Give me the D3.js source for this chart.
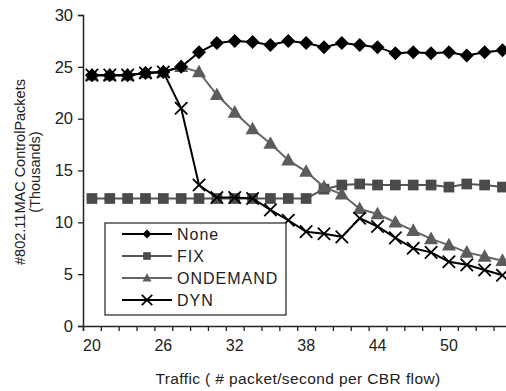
<!DOCTYPE html>
<html><head><meta charset="utf-8">
<script src="https://cdn.jsdelivr.net/npm/d3@7"></script>
<style>
html,body{margin:0;padding:0;background:#fff;}
svg{display:block;font-family:"Liberation Sans",Arial,sans-serif;}
</style></head>
<body><svg id="c" width="506" height="391"></svg>
<script>
const categories = [20,21.5,23,24.5,26,27.5,29,30.5,32,33.5,35,36.5,38,39.5,41,42.5,44,45.5,47,48.5,50,51.5,53,54.5];
const labelCats = [20,26,32,38,44,50];
const yTicks = [0,5,10,15,20,25,30];
const noneVals = [24.2,24.2,24.2,24.4,24.5,25.0,26.4,27.3,27.5,27.4,27.1,27.5,27.3,26.9,27.3,27.1,26.9,26.3,26.4,26.3,26.4,26.1,26.4,26.6];
const fixVals = [12.3,12.3,12.3,12.3,12.3,12.3,12.3,12.3,12.3,12.3,12.3,12.3,12.3,13.2,13.6,13.7,13.6,13.6,13.6,13.6,13.4,13.7,13.6,13.4];
const ondemandVals = [24.2,24.2,24.2,24.4,24.5,25.0,24.5,22.3,20.6,19.0,17.6,16.0,14.9,13.4,12.7,11.3,10.8,10.0,9.2,8.4,7.8,7.1,6.7,6.3];
const dynVals = [24.2,24.2,24.2,24.4,24.5,21.0,13.6,12.4,12.4,12.3,11.2,10.2,9.1,8.9,8.6,10.4,9.6,8.5,7.5,7.1,6.2,5.9,5.4,4.9];
const seriesNames = ["None","FIX","ONDEMAND","DYN"];

const svg = d3.select("#c");
const left = 83, step = 17.85;
const x = d3.scaleBand().domain(categories).range([left, left + step*categories.length]).padding(0);
const xEdge = d3.scaleLinear().domain([0, categories.length]).range([left, left + step*categories.length]);
const y = d3.scaleLinear().domain([0,30]).range([326,15]);

const series = [
  {name:seriesNames[0], vals:noneVals, line:"#000", fill:"#000", shape:"diamond"},
  {name:seriesNames[1], vals:fixVals, line:"#555", fill:"#4a4a4a", shape:"square"},
  {name:seriesNames[2], vals:ondemandVals, line:"#666", fill:"#5c5c5c", shape:"triangle"},
  {name:seriesNames[3], vals:dynVals, line:"#000", fill:"#000", shape:"x"}
];

// axes
const yAxis = d3.axisLeft(y).tickValues(yTicks).tickSize(5).tickPadding(5);
const gy = svg.append("g").attr("transform",`translate(${left},0)`).call(yAxis);
gy.selectAll("text").attr("font-size",16.5).attr("fill","#222").attr("font-family","Liberation Sans, Arial, sans-serif");
gy.select(".domain").attr("stroke","#222").attr("stroke-width",1.5);
gy.selectAll(".tick line").attr("stroke","#222").attr("stroke-width",1.3);

const gxT = svg.append("g").attr("transform","translate(0,326)")
  .call(d3.axisBottom(xEdge).tickValues(d3.range(0,categories.length+1)).tickSize(5).tickFormat(""));
gxT.select(".domain").attr("stroke","#222").attr("stroke-width",1.5);
gxT.selectAll(".tick line").attr("stroke","#222").attr("stroke-width",1.3);

const gxL = svg.append("g").attr("transform","translate(0,326)")
  .call(d3.axisBottom(x).tickValues(labelCats).tickSize(0).tickPadding(14).tickFormat(d=>d));
gxL.select(".domain").remove();
gxL.selectAll("text").attr("font-size",16).attr("fill","#222").attr("font-family","Liberation Sans, Arial, sans-serif");

// titles
svg.append("text").attr("x",298).attr("y",384).attr("text-anchor","middle")
  .attr("font-size",15.5).attr("letter-spacing",0.4).attr("fill","#222").text("Traffic ( # packet/second per CBR flow)");
svg.append("text").attr("transform","translate(25,172) rotate(-90)").attr("text-anchor","middle")
  .attr("font-size",14.5).attr("fill","#222").text("#802.11MAC ControlPackets");
svg.append("text").attr("transform","translate(40,172) rotate(-90)").attr("text-anchor","middle")
  .attr("font-size",14.5).attr("fill","#222").text("(Thousands)");

function drawMarker(g, shape, cx, cy, s, col){
  if(shape==="diamond"){
    g.append("path").attr("d",`M${cx},${cy-s}L${cx+s},${cy}L${cx},${cy+s}L${cx-s},${cy}Z`).attr("fill",col);
  } else if(shape==="square"){
    g.append("rect").attr("x",cx-s*0.85).attr("y",cy-s*0.85).attr("width",s*1.7).attr("height",s*1.7).attr("fill",col);
  } else if(shape==="triangle"){
    g.append("path").attr("d",`M${cx},${cy-s*1.05}L${cx+s},${cy+s*0.75}L${cx-s},${cy+s*0.75}Z`).attr("fill",col);
  } else {
    const k=s*0.95;
    g.append("path").attr("d",`M${cx-k},${cy-k}L${cx+k},${cy+k}M${cx-k},${cy+k}L${cx+k},${cy-k}`)
      .attr("stroke",col).attr("stroke-width",1.8).attr("fill","none");
  }
}

const cx = d => x(d) + x.bandwidth()/2;
const order = [1,2,0,3];
order.forEach(i=>{
  const s = series[i];
  const line = d3.line().x((v,j)=>cx(categories[j])).y(v=>y(v));
  const g = svg.append("g");
  g.append("path").attr("d",line(s.vals)).attr("fill","none").attr("stroke",s.line).attr("stroke-width",2);
  const sz = {diamond:7, square:6.3, triangle:7, x:6.5}[s.shape];
  s.vals.forEach((v,j)=>drawMarker(g, s.shape, cx(categories[j]), y(v), sz, s.fill));
});

// legend
const lg = svg.append("g");
lg.append("rect").attr("x",105).attr("y",223).attr("width",181).attr("height",92)
  .attr("fill","#fff").attr("stroke","#333").attr("stroke-width",1.3);
series.forEach((s,i)=>{
  const ly = 234 + i*22;
  lg.append("line").attr("x1",122).attr("x2",172).attr("y1",ly).attr("y2",ly).attr("stroke",s.line).attr("stroke-width",2);
  drawMarker(lg, s.shape, 147, ly, s.shape==="x"?5.5:4.5, s.fill);
  lg.append("text").attr("x",177).attr("y",ly+6).attr("font-size",16).attr("letter-spacing",1).attr("fill","#222").text(s.name);
});
</script></body></html>
